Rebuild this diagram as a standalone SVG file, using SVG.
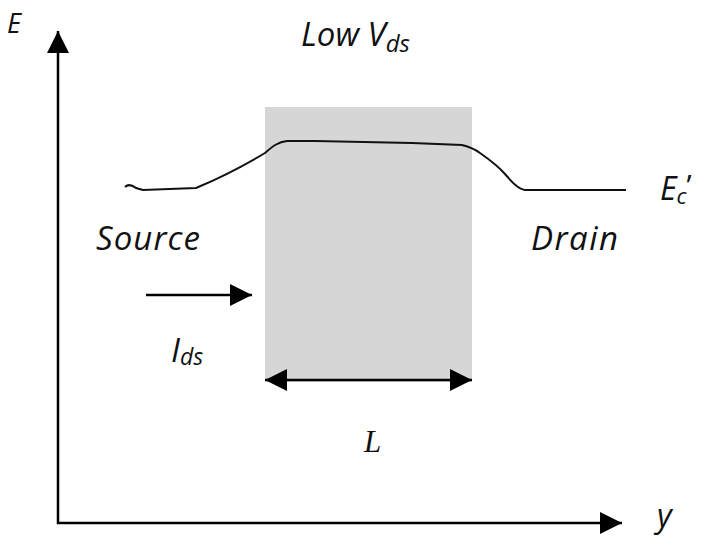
<svg xmlns="http://www.w3.org/2000/svg" width="709" height="545" viewBox="0 0 709 545">
<style>
.t{font-family:"Open Sans","Liberation Sans",sans-serif;font-style:italic;fill:#111}
.ln{stroke:#000;stroke-width:2.5;fill:none}
.curve{stroke:#111;stroke-width:2;fill:none}
</style>
<defs>
<marker id="ah" viewBox="0 0 22 22" refX="22" refY="11" markerWidth="22" markerHeight="22" markerUnits="userSpaceOnUse" orient="auto-start-reverse">
<path d="M0,0 L22,11 L0,22 Z" fill="#000"/>
</marker>
</defs>
<rect id="channel" x="265" y="107" width="207" height="275" fill="#d6d6d6"/>
<g id="connectors">
<line id="yaxis" class="ln" x1="58" y1="524" x2="58" y2="31" marker-end="url(#ah)"/>
<line id="xaxis" class="ln" x1="57" y1="523" x2="622" y2="523" marker-end="url(#ah)"/>
<line id="ids-arrow" class="ln" x1="146" y1="295" x2="252" y2="295" marker-end="url(#ah)"/>
<line id="L-arrow" class="ln" x1="265" y1="380" x2="472" y2="380" marker-start="url(#ah)" marker-end="url(#ah)"/>
</g>
<path id="Ec" class="curve" d="M125,187 C128,184 132,185 136,188 L143,190 L196,188 C215,180 240,168 265,153 C273,146 278,142 287,141 L315,141 L412,143 L462,145 C470,147 476,150 480,153 C490,160 498,166 505,174 C512,182 518,189 525,190 L626,190"/>
<g id="labels">
<text class="t" x="7" y="33" font-size="27">E</text>
<text class="t" x="301" y="46" font-size="33">Low V<tspan font-size="24" dy="6">ds</tspan></text>
<text class="t" x="660" y="200" font-size="32">E<tspan font-size="22" dy="4">c</tspan><tspan dy="-8" font-size="30" font-style="normal">’</tspan></text>
<text class="t" x="96" y="250" font-size="33" textLength="104">Source</text>
<text class="t" x="531" y="250" font-size="33" textLength="87">Drain</text>
<text class="t" x="171" y="362" font-size="33">I<tspan font-size="23" dy="3">ds</tspan></text>
<text x="364" y="452" font-size="31" font-family="Liberation Serif,serif" font-style="italic" fill="#111">L</text>
<text class="t" x="657" y="527" font-size="32">y</text>
</g>
</svg>
